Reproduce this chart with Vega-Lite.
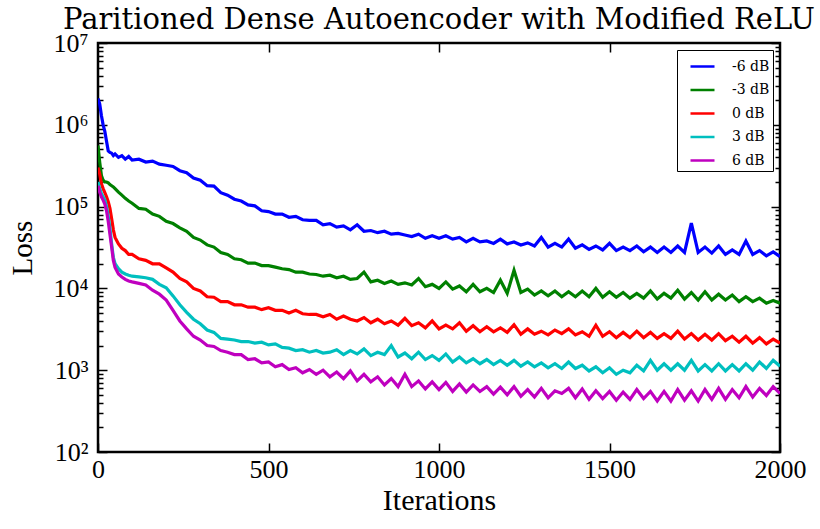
{
"$schema": "https://vega.github.io/schema/vega-lite/v6.json",
"width": 682, "height": 409,
"autosize": {"type": "none"},
"padding": {"left": 98, "top": 43, "right": 40, "bottom": 77},
"background": "white",
"title": {"text": "Paritioned Dense Autoencoder with Modified ReLU", "font": "DejaVu Serif", "fontSize": 29, "fontWeight": "normal", "color": "black", "anchor": "middle", "offset": -5},
"config": {
  "view": {"stroke": "black", "strokeWidth": 2.5},
  "axis": {"tickColor": "black", "tickWidth": 1.5, "domain": false, "grid": false, "labelColor": "black", "titleColor": "black"}
},
"data": {"values": [
{"i":0,"-6 dB":2.1e6,"-3 dB":5.6e5,"0 dB":3.0e5,"3 dB":2.0e5,"6 dB":1.8e5},
{"i":5,"-6 dB":1.8e6,"-3 dB":3.5e5,"0 dB":2.5e5,"3 dB":1.66e5,"6 dB":1.5e5},
{"i":10,"-6 dB":1.3e6,"-3 dB":2.4e5,"0 dB":1.9e5,"3 dB":1.45e5,"6 dB":1.32e5},
{"i":15,"-6 dB":1.0e6,"-3 dB":2.1e5,"0 dB":1.66e5,"3 dB":1.32e5,"6 dB":1.2e5},
{"i":20,"-6 dB":8.3e5,"-3 dB":2.0e5,"0 dB":1.48e5,"3 dB":1.2e5,"6 dB":1.07e5},
{"i":25,"-6 dB":6.3e5,"-3 dB":2.0e5,"0 dB":1.32e5,"3 dB":1.0e5,"6 dB":8.9e4},
{"i":30,"-6 dB":4.8e5,"-3 dB":1.95e5,"0 dB":1.15e5,"3 dB":7.6e4,"6 dB":6.6e4},
{"i":35,"-6 dB":4.6e5,"-3 dB":1.86e5,"0 dB":9.5e4,"3 dB":5.5e4,"6 dB":4.6e4},
{"i":40,"-6 dB":4.5e5,"-3 dB":1.8e5,"0 dB":7.1e4,"3 dB":3.5e4,"6 dB":3.2e4},
{"i":45,"-6 dB":4.2e5,"-3 dB":1.74e5,"0 dB":5.2e4,"3 dB":2.4e4,"6 dB":2.2e4},
{"i":50,"-6 dB":4.4e5,"-3 dB":1.66e5,"0 dB":4.2e4,"3 dB":2.0e4,"6 dB":1.8e4},
{"i":60,"-6 dB":4.0e5,"-3 dB":1.5e5,"0 dB":3.5e4,"3 dB":1.74e4,"6 dB":1.5e4},
{"i":70,"-6 dB":4.2e5,"-3 dB":1.38e5,"0 dB":3.1e4,"3 dB":1.58e4,"6 dB":1.38e4},
{"i":80,"-6 dB":3.8e5,"-3 dB":1.26e5,"0 dB":2.9e4,"3 dB":1.5e4,"6 dB":1.29e4},
{"i":90,"-6 dB":4.1e5,"-3 dB":1.17e5,"0 dB":2.6e4,"3 dB":1.45e4,"6 dB":1.23e4},
{"i":100,"-6 dB":3.7e5,"-3 dB":1.1e5,"0 dB":2.6e4,"3 dB":1.41e4,"6 dB":1.2e4},
{"i":120,"-6 dB":3.8e5,"-3 dB":9.5e4,"0 dB":2.3e4,"3 dB":1.38e4,"6 dB":1.15e4},
{"i":140,"-6 dB":3.5e5,"-3 dB":9.3e4,"0 dB":2.2e4,"3 dB":1.35e4,"6 dB":1.1e4},
{"i":160,"-6 dB":3.6e5,"-3 dB":8.1e4,"0 dB":2.0e4,"3 dB":1.29e4,"6 dB":9.5e3},
{"i":180,"-6 dB":3.3e5,"-3 dB":7.6e4,"0 dB":2.0e4,"3 dB":1.12e4,"6 dB":8.5e3},
{"i":200,"-6 dB":3.2e5,"-3 dB":6.6e4,"0 dB":1.78e4,"3 dB":1.02e4,"6 dB":7.2e3},
{"i":220,"-6 dB":3.1e5,"-3 dB":6.2e4,"0 dB":1.58e4,"3 dB":8.1e3,"6 dB":5.4e3},
{"i":240,"-6 dB":2.75e5,"-3 dB":5.5e4,"0 dB":1.32e4,"3 dB":6.3e3,"6 dB":4.0e3},
{"i":260,"-6 dB":2.6e5,"-3 dB":5.0e4,"0 dB":1.2e4,"3 dB":5.1e3,"6 dB":3.2e3},
{"i":280,"-6 dB":2.24e5,"-3 dB":4.2e4,"0 dB":1.0e4,"3 dB":4.2e3,"6 dB":2.6e3},
{"i":300,"-6 dB":2.1e5,"-3 dB":3.9e4,"0 dB":9.3e3,"3 dB":3.7e3,"6 dB":2.34e3},
{"i":320,"-6 dB":1.8e5,"-3 dB":3.4e4,"0 dB":7.9e3,"3 dB":3.1e3,"6 dB":2.0e3},
{"i":340,"-6 dB":1.78e5,"-3 dB":3.2e4,"0 dB":7.8e3,"3 dB":2.9e3,"6 dB":1.95e3},
{"i":360,"-6 dB":1.48e5,"-3 dB":2.75e4,"0 dB":6.9e3,"3 dB":2.45e3,"6 dB":1.74e3},
{"i":380,"-6 dB":1.38e5,"-3 dB":2.6e4,"0 dB":6.9e3,"3 dB":2.4e3,"6 dB":1.66e3},
{"i":400,"-6 dB":1.23e5,"-3 dB":2.3e4,"0 dB":6.3e3,"3 dB":2.34e3,"6 dB":1.55e3},
{"i":420,"-6 dB":1.17e5,"-3 dB":2.24e4,"0 dB":6.3e3,"3 dB":2.24e3,"6 dB":1.55e3},
{"i":440,"-6 dB":1.05e5,"-3 dB":2.04e4,"0 dB":5.9e3,"3 dB":2.24e3,"6 dB":1.35e3},
{"i":460,"-6 dB":1.02e5,"-3 dB":2.04e4,"0 dB":5.9e3,"3 dB":2.14e3,"6 dB":1.38e3},
{"i":480,"-6 dB":8.9e4,"-3 dB":1.9e4,"0 dB":5.5e3,"3 dB":2.2e3,"6 dB":1.23e3},
{"i":500,"-6 dB":8.7e4,"-3 dB":1.9e4,"0 dB":5.8e3,"3 dB":2.04e3,"6 dB":1.26e3},
{"i":520,"-6 dB":8.1e4,"-3 dB":1.82e4,"0 dB":5.4e3,"3 dB":2.1e3,"6 dB":1.1e3},
{"i":540,"-6 dB":8.1e4,"-3 dB":1.74e4,"0 dB":5.4e3,"3 dB":1.9e3,"6 dB":1.17e3},
{"i":560,"-6 dB":7.4e4,"-3 dB":1.7e4,"0 dB":5.0e3,"3 dB":1.86e3,"6 dB":1.02e3},
{"i":580,"-6 dB":7.6e4,"-3 dB":1.58e4,"0 dB":5.4e3,"3 dB":1.74e3,"6 dB":1.07e3},
{"i":600,"-6 dB":6.9e4,"-3 dB":1.58e4,"0 dB":4.9e3,"3 dB":1.78e3,"6 dB":930},
{"i":620,"-6 dB":6.8e4,"-3 dB":1.5e4,"0 dB":4.8e3,"3 dB":1.66e3,"6 dB":1.02e3},
{"i":640,"-6 dB":6.8e4,"-3 dB":1.48e4,"0 dB":4.8e3,"3 dB":1.74e3,"6 dB":890},
{"i":660,"-6 dB":6.0e4,"-3 dB":1.41e4,"0 dB":4.5e3,"3 dB":1.62e3,"6 dB":1.0e3},
{"i":680,"-6 dB":6.2e4,"-3 dB":1.45e4,"0 dB":4.8e3,"3 dB":1.66e3,"6 dB":830},
{"i":700,"-6 dB":5.6e4,"-3 dB":1.35e4,"0 dB":4.2e3,"3 dB":1.78e3,"6 dB":950},
{"i":720,"-6 dB":5.8e4,"-3 dB":1.41e4,"0 dB":4.6e3,"3 dB":1.55e3,"6 dB":790},
{"i":740,"-6 dB":5.2e4,"-3 dB":1.29e4,"0 dB":4.2e3,"3 dB":1.74e3,"6 dB":980},
{"i":760,"-6 dB":6.0e4,"-3 dB":1.32e4,"0 dB":4.0e3,"3 dB":1.58e3,"6 dB":740},
{"i":780,"-6 dB":5.0e4,"-3 dB":1.58e4,"0 dB":4.4e3,"3 dB":1.82e3,"6 dB":890},
{"i":800,"-6 dB":5.1e4,"-3 dB":1.2e4,"0 dB":3.8e3,"3 dB":1.51e3,"6 dB":720},
{"i":820,"-6 dB":4.8e4,"-3 dB":1.26e4,"0 dB":4.2e3,"3 dB":1.66e3,"6 dB":830},
{"i":840,"-6 dB":5.0e4,"-3 dB":1.15e4,"0 dB":3.7e3,"3 dB":1.55e3,"6 dB":660},
{"i":860,"-6 dB":4.6e4,"-3 dB":1.23e4,"0 dB":4.0e3,"3 dB":2.0e3,"6 dB":790},
{"i":880,"-6 dB":4.7e4,"-3 dB":1.12e4,"0 dB":3.55e3,"3 dB":1.45e3,"6 dB":630},
{"i":900,"-6 dB":4.5e4,"-3 dB":1.17e4,"0 dB":4.3e3,"3 dB":1.62e3,"6 dB":890},
{"i":920,"-6 dB":4.3e4,"-3 dB":1.1e4,"0 dB":3.5e3,"3 dB":1.38e3,"6 dB":630},
{"i":940,"-6 dB":4.6e4,"-3 dB":1.32e4,"0 dB":3.8e3,"3 dB":1.66e3,"6 dB":740},
{"i":960,"-6 dB":4.1e4,"-3 dB":1.05e4,"0 dB":3.3e3,"3 dB":1.35e3,"6 dB":590},
{"i":980,"-6 dB":4.4e4,"-3 dB":1.12e4,"0 dB":4.0e3,"3 dB":1.51e3,"6 dB":720},
{"i":1000,"-6 dB":4.1e4,"-3 dB":1.0e4,"0 dB":3.2e3,"3 dB":1.32e3,"6 dB":580},
{"i":1020,"-6 dB":4.4e4,"-3 dB":1.2e4,"0 dB":3.55e3,"3 dB":1.58e3,"6 dB":710},
{"i":1040,"-6 dB":4.0e4,"-3 dB":9.8e3,"0 dB":3.2e3,"3 dB":1.26e3,"6 dB":550},
{"i":1060,"-6 dB":4.2e4,"-3 dB":1.07e4,"0 dB":3.8e3,"3 dB":1.45e3,"6 dB":680},
{"i":1080,"-6 dB":3.7e4,"-3 dB":9.1e3,"0 dB":3.0e3,"3 dB":1.23e3,"6 dB":540},
{"i":1100,"-6 dB":4.1e4,"-3 dB":1.12e4,"0 dB":3.5e3,"3 dB":1.38e3,"6 dB":660},
{"i":1120,"-6 dB":3.7e4,"-3 dB":9.1e3,"0 dB":2.95e3,"3 dB":1.2e3,"6 dB":550},
{"i":1140,"-6 dB":3.8e4,"-3 dB":1.0e4,"0 dB":3.4e3,"3 dB":1.35e3,"6 dB":630},
{"i":1160,"-6 dB":3.55e4,"-3 dB":8.9e3,"0 dB":2.95e3,"3 dB":1.17e3,"6 dB":510},
{"i":1180,"-6 dB":4.0e4,"-3 dB":1.26e4,"0 dB":3.3e3,"3 dB":1.32e3,"6 dB":620},
{"i":1200,"-6 dB":3.5e4,"-3 dB":8.7e3,"0 dB":2.9e3,"3 dB":1.15e3,"6 dB":500},
{"i":1220,"-6 dB":3.7e4,"-3 dB":1.66e4,"0 dB":3.6e3,"3 dB":1.32e3,"6 dB":630},
{"i":1240,"-6 dB":3.4e4,"-3 dB":8.9e3,"0 dB":2.75e3,"3 dB":1.12e3,"6 dB":480},
{"i":1260,"-6 dB":3.6e4,"-3 dB":9.8e3,"0 dB":3.2e3,"3 dB":1.26e3,"6 dB":580},
{"i":1280,"-6 dB":3.3e4,"-3 dB":8.3e3,"0 dB":2.75e3,"3 dB":1.1e3,"6 dB":470},
{"i":1300,"-6 dB":4.2e4,"-3 dB":9.3e3,"0 dB":3.0e3,"3 dB":1.23e3,"6 dB":600},
{"i":1320,"-6 dB":3.2e4,"-3 dB":8.1e3,"0 dB":2.7e3,"3 dB":1.07e3,"6 dB":460},
{"i":1340,"-6 dB":3.55e4,"-3 dB":9.3e3,"0 dB":3.1e3,"3 dB":1.2e3,"6 dB":560},
{"i":1360,"-6 dB":3.2e4,"-3 dB":7.9e3,"0 dB":2.8e3,"3 dB":1.05e3,"6 dB":520},
{"i":1380,"-6 dB":4.0e4,"-3 dB":9.1e3,"0 dB":3.2e3,"3 dB":1.26e3,"6 dB":600},
{"i":1400,"-6 dB":3.1e4,"-3 dB":7.9e3,"0 dB":2.7e3,"3 dB":1.05e3,"6 dB":460},
{"i":1420,"-6 dB":3.4e4,"-3 dB":9.3e3,"0 dB":2.95e3,"3 dB":1.15e3,"6 dB":590},
{"i":1440,"-6 dB":3.0e4,"-3 dB":7.9e3,"0 dB":2.6e3,"3 dB":980,"6 dB":440},
{"i":1460,"-6 dB":3.3e4,"-3 dB":1.0e4,"0 dB":3.55e3,"3 dB":1.1e3,"6 dB":560},
{"i":1480,"-6 dB":2.95e4,"-3 dB":7.8e3,"0 dB":2.6e3,"3 dB":930,"6 dB":450},
{"i":1500,"-6 dB":3.55e4,"-3 dB":9.1e3,"0 dB":2.95e3,"3 dB":1.07e3,"6 dB":550},
{"i":1520,"-6 dB":2.9e4,"-3 dB":7.8e3,"0 dB":2.5e3,"3 dB":890,"6 dB":430},
{"i":1540,"-6 dB":3.2e4,"-3 dB":8.9e3,"0 dB":2.9e3,"3 dB":1.0e3,"6 dB":540},
{"i":1560,"-6 dB":2.9e4,"-3 dB":7.6e3,"0 dB":2.5e3,"3 dB":930,"6 dB":440},
{"i":1580,"-6 dB":3.3e4,"-3 dB":8.7e3,"0 dB":3.0e3,"3 dB":1.15e3,"6 dB":580},
{"i":1600,"-6 dB":2.8e4,"-3 dB":7.6e3,"0 dB":2.5e3,"3 dB":980,"6 dB":450},
{"i":1620,"-6 dB":3.2e4,"-3 dB":9.3e3,"0 dB":2.9e3,"3 dB":1.32e3,"6 dB":550},
{"i":1640,"-6 dB":2.75e4,"-3 dB":7.4e3,"0 dB":2.45e3,"3 dB":1.0e3,"6 dB":420},
{"i":1660,"-6 dB":3.2e4,"-3 dB":8.7e3,"0 dB":2.8e3,"3 dB":1.2e3,"6 dB":550},
{"i":1680,"-6 dB":2.75e4,"-3 dB":7.6e3,"0 dB":2.45e3,"3 dB":1.0e3,"6 dB":420},
{"i":1700,"-6 dB":3.3e4,"-3 dB":9.5e3,"0 dB":3.0e3,"3 dB":1.2e3,"6 dB":580},
{"i":1720,"-6 dB":2.75e4,"-3 dB":7.4e3,"0 dB":2.4e3,"3 dB":1.0e3,"6 dB":430},
{"i":1740,"-6 dB":6.3e4,"-3 dB":8.9e3,"0 dB":2.8e3,"3 dB":1.32e3,"6 dB":560},
{"i":1760,"-6 dB":2.75e4,"-3 dB":7.2e3,"0 dB":2.34e3,"3 dB":980,"6 dB":420},
{"i":1780,"-6 dB":3.2e4,"-3 dB":9.1e3,"0 dB":2.75e3,"3 dB":1.17e3,"6 dB":580},
{"i":1800,"-6 dB":2.7e4,"-3 dB":7.2e3,"0 dB":2.34e3,"3 dB":980,"6 dB":440},
{"i":1820,"-6 dB":3.3e4,"-3 dB":8.5e3,"0 dB":2.8e3,"3 dB":1.2e3,"6 dB":600},
{"i":1840,"-6 dB":2.6e4,"-3 dB":7.2e3,"0 dB":2.3e3,"3 dB":980,"6 dB":440},
{"i":1860,"-6 dB":2.95e4,"-3 dB":8.3e3,"0 dB":2.6e3,"3 dB":1.17e3,"6 dB":580},
{"i":1880,"-6 dB":2.6e4,"-3 dB":6.9e3,"0 dB":2.2e3,"3 dB":980,"6 dB":460},
{"i":1900,"-6 dB":3.8e4,"-3 dB":7.9e3,"0 dB":2.6e3,"3 dB":1.2e3,"6 dB":630},
{"i":1920,"-6 dB":2.6e4,"-3 dB":6.9e3,"0 dB":2.14e3,"3 dB":1.0e3,"6 dB":470},
{"i":1940,"-6 dB":2.9e4,"-3 dB":7.6e3,"0 dB":2.5e3,"3 dB":1.26e3,"6 dB":600},
{"i":1960,"-6 dB":2.5e4,"-3 dB":6.6e3,"0 dB":2.1e3,"3 dB":1.05e3,"6 dB":490},
{"i":1980,"-6 dB":2.8e4,"-3 dB":7.1e3,"0 dB":2.4e3,"3 dB":1.32e3,"6 dB":630},
{"i":2000,"-6 dB":2.45e4,"-3 dB":6.6e3,"0 dB":2.14e3,"3 dB":1.12e3,"6 dB":520}
]},
"transform": [{"fold": ["-6 dB", "-3 dB", "0 dB", "3 dB", "6 dB"], "as": ["series", "loss"]}],
"layer": [
  {
    "mark": {"type": "line", "strokeWidth": 3.2, "strokeJoin": "miter", "clip": true},
    "encoding": {
      "x": {"field": "i", "type": "quantitative", "scale": {"domain": [0, 2000]},
            "axis": {"orient": "bottom", "values": [0, 500, 1000, 1500, 2000], "tickSize": -9, "labelFont": "Liberation Serif", "labelFontSize": 26, "labelPadding": 13, "labelFlush": false, "labelOverlap": false, "format": "d", "title": "Iterations", "titleFont": "Liberation Serif", "titleFontSize": 30, "titleFontWeight": "normal", "titlePadding": 3}},
      "y": {"field": "loss", "type": "quantitative", "scale": {"type": "log", "domain": [100, 10000000]},
            "axis": {"orient": "left", "values": [100, 1000, 10000, 100000, 1000000, 10000000], "tickSize": -9, "labelFont": "Liberation Serif", "labelFontSize": 26, "labelPadding": 19, "labelOverlap": false, "labelFlush": false, "labelExpr": "'10' + ['⁰','¹','²','³','⁴','⁵','⁶','⁷','⁸'][round(log(datum.value)/LN10)]", "title": "Loss", "titleFont": "Liberation Serif", "titleFontSize": 29, "titleFontWeight": "normal", "titlePadding": 15}},
      "color": {"field": "series", "type": "nominal",
                "scale": {"domain": ["-6 dB", "-3 dB", "0 dB", "3 dB", "6 dB"], "range": ["#0000ff", "#008000", "#ff0000", "#00bfbf", "#bf00bf"]},
                "legend": {"orient": "top-right", "offset": 7, "title": null, "symbolType": "stroke", "symbolSize": 576, "symbolStrokeWidth": 2.5, "symbolOffset": 9, "labelFont": "DejaVu Serif", "labelFontSize": 14, "labelColor": "black", "strokeColor": "black", "fillColor": "white", "padding": 3, "rowPadding": 2.5, "labelOffset": 16}}
    }
  },
  {
    "mark": {"type": "line", "opacity": 0},
    "encoding": {
      "x": {"field": "i", "type": "quantitative", "axis": {"orient": "top", "values": [500, 1000, 1500], "tickSize": -9, "labels": false, "title": null}},
      "y": {"field": "loss", "type": "quantitative", "axis": {"orient": "left", "values": [200,300,400,500,600,700,800,900,2000,3000,4000,5000,6000,7000,8000,9000,20000,30000,40000,50000,60000,70000,80000,90000,200000,300000,400000,500000,600000,700000,800000,900000,2000000,3000000,4000000,5000000,6000000,7000000,8000000,9000000], "tickSize": -5, "labels": false, "title": null}},
      "detail": {"field": "series"}
    }
  },
  {
    "mark": {"type": "line", "opacity": 0},
    "encoding": {
      "x": {"field": "i", "type": "quantitative", "axis": null},
      "y": {"field": "loss", "type": "quantitative", "axis": {"orient": "right", "values": [100, 1000, 10000, 100000, 1000000, 10000000], "tickSize": -9, "labels": false, "title": null}},
      "detail": {"field": "series"}
    }
  },
  {
    "mark": {"type": "line", "opacity": 0},
    "encoding": {
      "x": {"field": "i", "type": "quantitative", "axis": null},
      "y": {"field": "loss", "type": "quantitative", "axis": {"orient": "right", "values": [200,300,400,500,600,700,800,900,2000,3000,4000,5000,6000,7000,8000,9000,20000,30000,40000,50000,60000,70000,80000,90000,200000,300000,400000,500000,600000,700000,800000,900000,2000000,3000000,4000000,5000000,6000000,7000000,8000000,9000000], "tickSize": -5, "labels": false, "title": null}},
      "detail": {"field": "series"}
    }
  }
],
"resolve": {"axis": {"x": "independent", "y": "independent"}}
}
